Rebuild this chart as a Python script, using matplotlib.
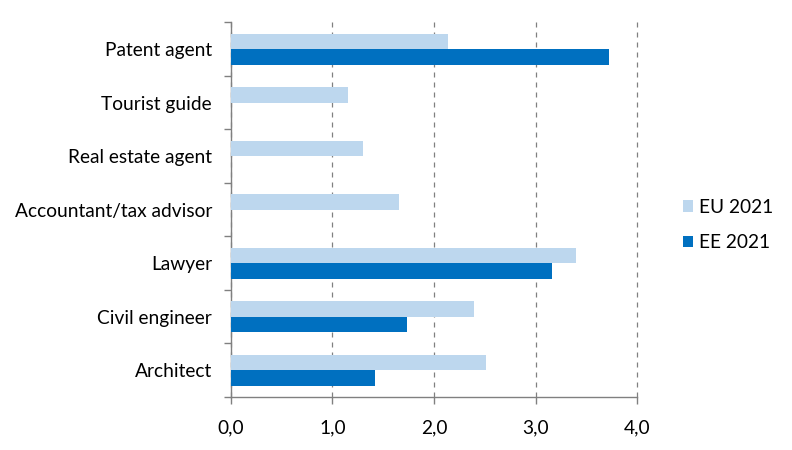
import matplotlib
matplotlib.use("Agg")
import matplotlib.pyplot as plt
import numpy as np

categories = ["Patent agent", "Tourist guide", "Real estate agent",
              "Accountant/tax advisor", "Lawyer", "Civil engineer", "Architect"]
eu_2021 = [2.14, 1.15, 1.30, 1.66, 3.40, 2.39, 2.51]
ee_2021 = [3.72, np.nan, np.nan, np.nan, 3.16, 1.73, 1.42]
xticks = [0, 1, 2, 3, 4]
xticklabels = ["0,0", "1,0", "2,0", "3,0", "4,0"]

plt.rcParams['font.family'] = ['Lato', 'DejaVu Sans']
fs = 13.8

fig = plt.figure(figsize=(7.92, 4.5), dpi=100)
ax = fig.add_axes([0.2912, 0.1178, 0.8047 - 0.2912, 0.9504 - 0.1178])

pos = np.arange(len(categories))
h = 0.29
light = "#BDD7EE"
dark = "#0070C0"
ax.barh(pos - h / 2, eu_2021, height=h, color=light, label="EU 2021", zorder=3)
ax.barh(pos + h / 2, ee_2021, height=h, color=dark, label="EE 2021", zorder=3)

ax.set_ylim(len(categories) - 0.5, -0.5)
ax.set_xlim(0, 4)
ax.set_yticks(pos)
ax.set_yticklabels(categories, fontsize=fs, color="#000000")
ax.set_yticks(np.arange(len(categories) + 1) - 0.5, minor=True)
ax.tick_params(axis="y", which="major", length=0, pad=13.5)
ax.tick_params(axis="y", which="minor", length=5, color="#808080", width=1)
ax.set_xticks(xticks)
ax.set_xticklabels(xticklabels, fontsize=fs)
ax.tick_params(axis="x", length=5, color="#808080", width=1, pad=11)

ax.grid(axis="x", linestyle=(0, (4, 4)), color="#808080", linewidth=0.9, zorder=0)
for gl in ax.get_xgridlines():
    gl.set_clip_on(False)
for s in ["top", "right"]:
    ax.spines[s].set_visible(False)
for s in ["left", "bottom"]:
    ax.spines[s].set_color("#808080")
    ax.spines[s].set_linewidth(1)

leg = fig.legend(loc="center left", bbox_to_anchor=(0.84, 0.50), frameon=False,
                 fontsize=fs, handlelength=0.55, handleheight=0.55,
                 handletextpad=0.3, labelspacing=0.95)

fig.savefig("out.png", dpi=100)
